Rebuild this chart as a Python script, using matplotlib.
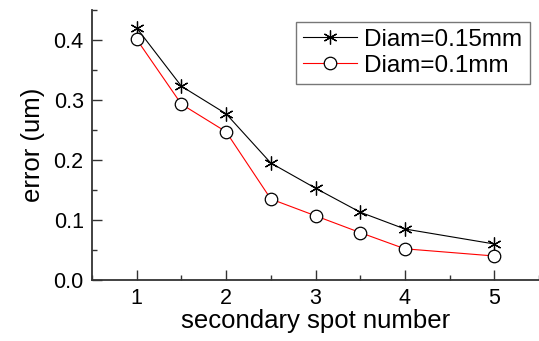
import matplotlib
matplotlib.use("Agg")
import matplotlib.pyplot as plt
from matplotlib.ticker import MultipleLocator

plt.rcParams['font.family'] = ['Liberation Sans', 'DejaVu Sans']

x = [1, 1.5, 2, 2.5, 3, 3.5, 4, 5]
diam_015 = [0.420, 0.323, 0.277, 0.195, 0.153, 0.113, 0.085, 0.060]
diam_01 = [0.401, 0.293, 0.247, 0.135, 0.107, 0.079, 0.052, 0.040]
labels = ["Diam=0.15mm", "Diam=0.1mm"]

fig = plt.figure(figsize=(5.39, 3.41), dpi=100)
ax = fig.add_axes([0.1707, 0.1789, 0.8293, 0.7918])

ax.plot(x, diam_015, color='black', lw=0.8, marker=(6, 2, 0), ms=10,
        mec='black', mew=0.9, label=labels[0])
ax.plot(x, diam_01, color='red', lw=0.8, marker='o', ms=9,
        mfc='white', mec='black', mew=0.9, label=labels[1])

ax.set_xlim(0.5, 5.5)
ax.set_ylim(0, 0.45)
ax.xaxis.set_major_locator(MultipleLocator(1))
ax.xaxis.set_minor_locator(MultipleLocator(0.5))
ax.yaxis.set_major_locator(MultipleLocator(0.1))
ax.yaxis.set_minor_locator(MultipleLocator(0.05))
ax.yaxis.set_major_formatter(matplotlib.ticker.FormatStrFormatter('%.1f'))

for s in ['top', 'right']:
    ax.spines[s].set_visible(False)
for s in ['left', 'bottom']:
    ax.spines[s].set_color('#333333')
    ax.spines[s].set_linewidth(1.3)

ax.tick_params(which='both', direction='in', color='#333333', width=1.0,
               labelsize=15.5, pad=6)
ax.tick_params(which='major', length=7.5)
ax.tick_params(which='minor', length=3.8)
ax.set_xticks([1, 2, 3, 4, 5])

ax.set_xlabel("secondary spot number", fontsize=18.5, labelpad=0)
ax.set_ylabel("error (um)", fontsize=18.5, labelpad=6)

leg = ax.legend(loc='upper right', bbox_to_anchor=(0.99, 0.975), fontsize=17.5,
                frameon=True, fancybox=False, edgecolor='#555555',
                handlelength=2.2, handletextpad=0.3, borderpad=0.3,
                labelspacing=0.15, borderaxespad=0.2)
leg.get_frame().set_linewidth(1.0)

fig.savefig("out.png", dpi=100)
